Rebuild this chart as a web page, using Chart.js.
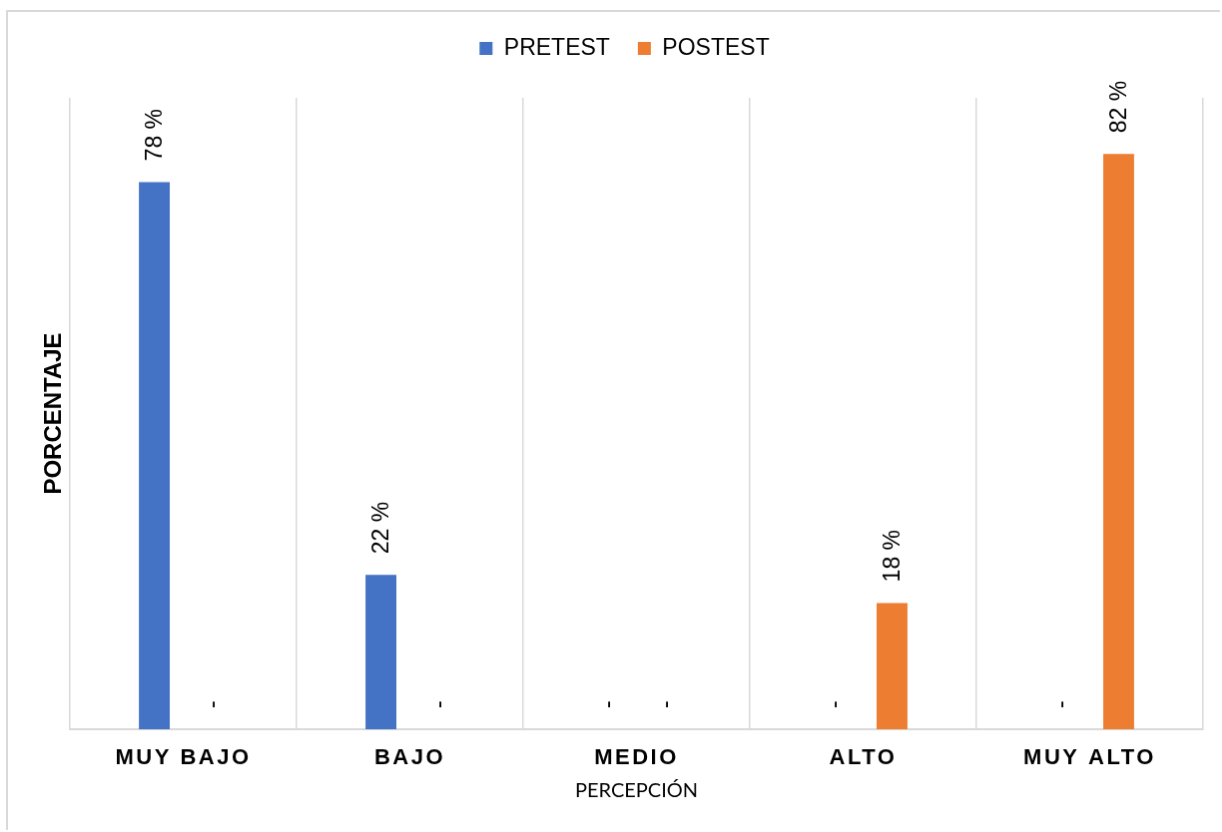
<!DOCTYPE html>
<html>
<head>
<meta charset="utf-8">
<title>Percepción pretest / postest</title>
<script src="https://cdn.jsdelivr.net/npm/chart.js@4.4.1/dist/chart.umd.min.js"></script>
<style>
  html, body { margin: 0; padding: 0; background: #fff; }
  #chart {
    position: absolute;
    left: 6px;
    top: 10px;
    border-left: 2px solid #d9d9d9;
    border-top: 2px solid #d9d9d9;
  }
</style>
</head>
<body>
<canvas id="chart" width="1214" height="820"></canvas>
<script>
const categories = ['MUY BAJO', 'BAJO', 'MEDIO', 'ALTO', 'MUY ALTO'];
const pretest = [78, 22, 0, 0, 0];
const postest = [0, 0, 0, 18, 82];

const BLUE = '#4472c4';
const ORANGE = '#ed7d31';
const GRID = '#d9d9d9';

// rotated value labels above each bar, "-" for empty ones
const barLabels = {
  id: 'barLabels',
  afterDatasetsDraw(chart) {
    const ctx = chart.ctx;
    ctx.save();
    ctx.font = '23px "Liberation Sans", Arial, sans-serif';
    ctx.fillStyle = '#000';
    ctx.textAlign = 'left';
    ctx.textBaseline = 'middle';
    chart.data.datasets.forEach((ds, i) => {
      chart.getDatasetMeta(i).data.forEach((bar, j) => {
        const v = ds.data[j];
        const txt = v ? v + ' %' : '-';
        ctx.save();
        ctx.translate(bar.x + 1, bar.y - 21);
        ctx.rotate(-Math.PI / 2);
        ctx.fillText(txt, 0, 0);
        ctx.restore();
      });
    });
    ctx.restore();
  }
};

// extra room under the legend, and letter spacing on category labels
const layoutTweaks = {
  id: 'layoutTweaks',
  beforeLayout(chart) {
    const lg = chart.legend;
    if (lg && !lg._tweaked) {
      const fit = lg.fit;
      lg.fit = function () {
        fit.call(this);
        this.height += 28;
      };
      lg._tweaked = true;
    }
  },
  afterLayout(chart) {
    // center the legend a little to the right, over the plot
    chart.legend.left += 38;
    const x = chart.scales.x;
    if (x && !x._tweaked) {
      const drawLabels = x.drawLabels;
      x.drawLabels = function (area) {
        this.ctx.save();
        this.ctx.letterSpacing = '2.5px';
        drawLabels.call(this, area);
        this.ctx.restore();
      };
      x._tweaked = true;
    }
  }
};

new Chart(document.getElementById('chart'), {
  type: 'bar',
  data: {
    labels: categories,
    datasets: [
      { label: 'PRETEST', data: pretest, backgroundColor: BLUE },
      { label: 'POSTEST', data: postest, backgroundColor: ORANGE }
    ]
  },
  options: {
    responsive: false,
    animation: false,
    layout: { padding: { left: 0, right: 17, top: -3, bottom: 0 } },
    datasets: {
      bar: { categoryPercentage: 0.51, barPercentage: 0.534 }
    },
    plugins: {
      legend: {
        position: 'top',
        labels: {
          boxWidth: 13,
          boxHeight: 13,
          padding: 28,
          color: '#000',
          font: { family: '"Liberation Sans", Arial, sans-serif', size: 23 }
        }
      },
      tooltip: { enabled: false }
    },
    scales: {
      x: {
        afterFit(scale) { scale.height = 101; },
        grid: { color: GRID, lineWidth: 1.5, drawTicks: false, offset: true },
        border: { color: GRID, width: 2 },
        ticks: {
          padding: 16,
          color: '#000',
          font: { family: '"Liberation Sans", Arial, sans-serif', size: 22, weight: 'bold' }
        },
        title: {
          display: true,
          text: 'PERCEPCIÓN',
          color: '#000',
          padding: { top: 0, bottom: 27 },
          font: { family: 'Lato, "Open Sans", sans-serif', size: 20 }
        }
      },
      y: {
        min: 0,
        max: 90,
        afterFit(scale) { scale.width = 62; },
        grid: { display: false },
        border: { display: false },
        ticks: { display: false },
        title: {
          display: true,
          text: 'PORCENTAJE',
          color: '#000',
          padding: { top: 32, bottom: 0 },
          font: { family: '"Liberation Sans", Arial, sans-serif', size: 24, weight: 'bold' }
        }
      }
    }
  },
  plugins: [barLabels, layoutTweaks]
});
</script>
</body>
</html>
